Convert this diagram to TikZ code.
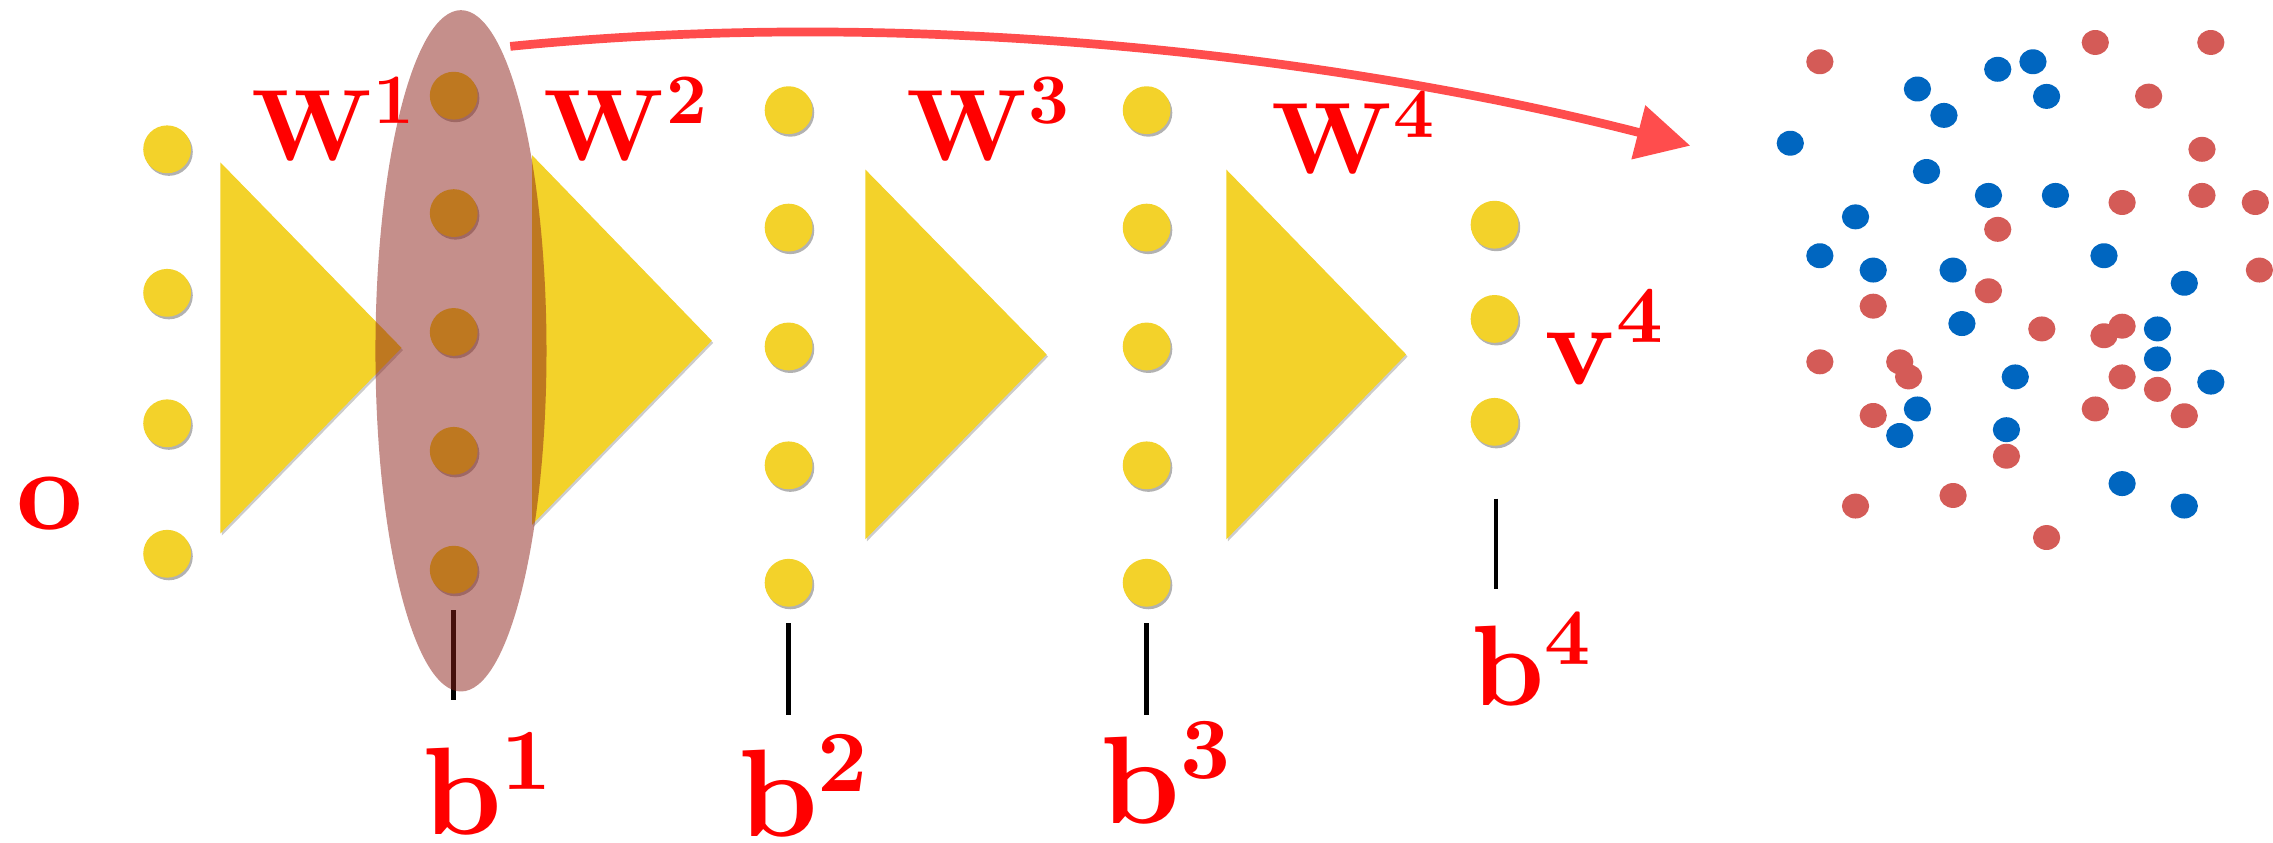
\RequirePackage{fix-cm}
\documentclass[tikz,border=0pt]{standalone}
\usetikzlibrary{arrows.meta,shapes.geometric,shadows}
\DeclareFontShape{OT1}{cmr}{bx}{n}{<->cmbx10}{}
\definecolor{yel}{RGB}{243,210,42}
\definecolor{ellc}{RGB}{139,31,23}
\definecolor{labred}{RGB}{255,0,0}
\definecolor{arrred}{RGB}{255,77,77}
\definecolor{sred}{RGB}{212,91,87}
\definecolor{sblue}{RGB}{0,102,192}
\newcommand\labW{\fontsize{70}{80}\selectfont\boldmath}
\newcommand\labB{\fontsize{86}{96}\selectfont\boldmath}
\newcommand\labBf{\fontsize{79}{90}\selectfont\boldmath}
\newcommand\labV{\fontsize{80}{90}\selectfont\boldmath}
\begin{document}
\begin{tikzpicture}[x=1pt,y=-1pt,
  ydot/.style={circle,fill=yel,minimum size=33pt,inner sep=0pt,
    drop shadow={shadow xshift=1.2pt,shadow yshift=-1.8pt,fill=black,opacity=0.3}},
  tri/.style={fill=yel,drop shadow={shadow xshift=1pt,shadow yshift=-1.5pt,fill=black,opacity=0.2}},
  tickline/.style={draw=black,line width=3.4pt},
  lab/.style={text=labred,inner sep=0pt,anchor=base west},
  arr/.style={draw=arrred,line width=6pt,-{Triangle[length=37pt,width=37pt]}},
  rdot/.style={fill=sred},
  bdot/.style={fill=sblue}]
\useasboundingbox (0,0) rectangle (1568,581);
% triangles
\fill[tri] (152,112) -- (152,368) -- (277,240) -- cycle;
\fill[tri] (367,107) -- (367,362) -- (491,235) -- cycle;
\fill[tri] (597,117) -- (597,372) -- (722,244.5) -- cycle;
\fill[tri] (846,117) -- (846,372) -- (970,244.5) -- cycle;
% dots
\foreach \y [count=\i] in {103,202,292,382} \node[ydot] (a\i) at (115.3,\y) {};
\foreach \y [count=\i] in {66,147,229,311,393} \node[ydot] (c\i) at (313,\y) {};
\foreach \y [count=\i] in {76,157,239,321,402} \node[ydot] (d\i) at (544,\y) {};
\foreach \y [count=\i] in {76,157,239,321,402} \node[ydot] (e\i) at (791,\y) {};
\foreach \y [count=\i] in {155,220,291} \node[ydot] (f\i) at (1031,\y) {};
% ticks
\coordinate (t1a) at (313,421); \coordinate (t1b) at (313,483);
\coordinate (t2a) at (544,430); \coordinate (t2b) at (544,493);
\coordinate (t3a) at (791,430); \coordinate (t3b) at (791,493);
\coordinate (t4a) at (1032,344); \coordinate (t4b) at (1032,406);
\draw[tickline] (t1a) -- (t1b);
% ellipse
\node[ellipse,fill=ellc,fill opacity=0.5,minimum width=118pt,minimum height=470pt,inner sep=0pt] (ell) at (318,242) {};
\draw[tickline] (t2a) -- (t2b);
\draw[tickline] (t3a) -- (t3b);
\draw[tickline] (t4a) -- (t4b);
% labels
\node[lab,font=\labW] (w1) at (173,110.5) {$\mathbf{W}^{1}$};
\node[lab,font=\labW] (w2) at (375,110.5) {$\mathbf{W}^{2}$};
\node[lab,font=\labW] (w3) at (625,110.5) {$\mathbf{W}^{3}$};
\node[lab,font=\labW] (w4) at (877,120) {$\mathbf{W}^{4}$};
\node[lab,font=\labB] (b1) at (291,576) {$\mathbf{b}^{1}$};
\node[lab,font=\labB] (b2) at (509,577) {$\mathbf{b}^{2}$};
\node[lab,font=\labB] (b3) at (759,568) {$\mathbf{b}^{3}$};
\node[lab,font=\labBf] (b4) at (1015,487) {$\mathbf{b}^{4}$};
\node[lab,font=\labV] (v4) at (1065,265) {$\mathbf{v}^{4}$};
\node[lab,font=\labV] (o) at (11,365) {$\mathbf{o}$};
% arrow
\coordinate (as) at (352,32);
\coordinate (ae) at (1166,100.5);
\draw[arr] (as) .. controls (650,2) and (950,45) .. (ae);
% scatter
\foreach \x/\y in {1255.4/42.6,1445.4/29.3,1525.1/29.3,1482.2/66.3,1519.0/103.0,1463.9/139.7,1519.0/134.8,1555.8/139.7,1378.1/158.2,1558.6/186.3,1371.7/200.6,1292.2/211.2,1408.5/226.9,1451.4/231.6,1463.9/225.0,1255.4/249.6,1310.5/249.6,1316.6/260.0,1463.9/260.0,1488.3/268.6,1292.2/286.6,1445.4/282.1,1506.8/286.8,1384.1/314.7,1347.3/341.8,1280.0/349.1,1411.8/370.8}
  \fill[rdot] (\x,\y) ellipse [x radius=9.4,y radius=8.6];
\foreach \x/\y in {1378.1/47.8,1402.4/42.6,1322.7/61.4,1411.8/66.5,1341.0/79.6,1235.0/98.8,1329.0/118.3,1371.7/134.8,1417.9/134.8,1280.0/149.6,1255.4/176.4,1451.4/176.4,1292.2/186.3,1347.3/186.3,1506.8/195.4,1353.4/223.2,1488.3/226.9,1488.3/247.6,1390.2/260.0,1525.1/263.6,1322.7/282.1,1310.5/300.4,1384.1/296.4,1463.9/333.6,1506.8/349.1}
  \fill[bdot] (\x,\y) ellipse [x radius=9.4,y radius=8.6];
\end{tikzpicture}
\end{document}
